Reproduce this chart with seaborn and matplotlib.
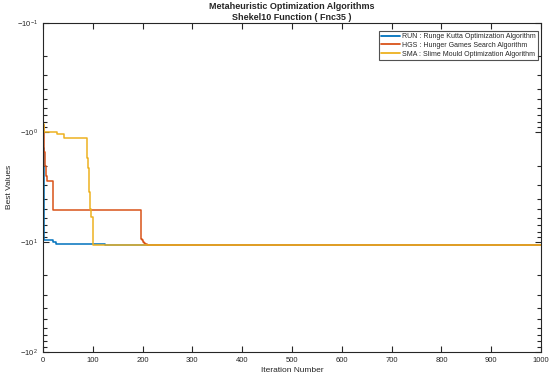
import numpy as np
import pandas as pd
import matplotlib
matplotlib.use('Agg')
import matplotlib.pyplot as plt
import matplotlib.ticker as mticker
import seaborn as sns

# convergence curves (best value per iteration, breakpoints of the step curves)
it_run = [1, 2, 3, 20, 27, 124, 1000]
val_run = [-1.39, -4.5, -9.53, -9.9, -10.3, -10.5364, -10.5364]

it_hgs = [1, 2, 3, 5, 7, 9, 21, 196, 198, 200, 202, 205, 208, 1000]
val_hgs = [-0.85, -1.1, -1.5, -2.0, -2.5, -2.75, -5.08, -9.3, -9.6, -9.9, -10.2, -10.4, -10.5364, -10.5364]

it_sma = [1, 2, 3, 28, 43, 88, 90, 91, 93, 95, 97, 100, 1000]
val_sma = [-0.84, -0.88, -1.0, -1.03, -1.12, -1.72, -1.8, -2.1, -3.5, -5.0, -5.9, -10.5364, -10.5364]

labels = ['RUN : Runge Kutta Optimization Algorithm',
          'HGS : Hunger Games Search Algorithm',
          'SMA : Slime Mould Optimization Algorithm']
colors = ['#0072BD', '#D95319', '#EDB120']

frames = []
for it, val, lab in zip([it_run, it_hgs, it_sma], [val_run, val_hgs, val_sma], labels):
    frames.append(pd.DataFrame({'iter': it, 'best': val, 'algo': lab}))
df = pd.concat(frames, ignore_index=True)
# negative values on a log axis (MATLAB style): plot magnitudes, axis inverted
df['mag'] = -df['best']

sns.set_style('white')
plt.rcParams['font.family'] = ['Liberation Sans', 'DejaVu Sans']
plt.rcParams['mathtext.fontset'] = 'custom'
plt.rcParams['mathtext.rm'] = 'Liberation Sans'
plt.rcParams['mathtext.it'] = 'Liberation Sans'

fig = plt.figure(figsize=(5.54, 3.81), dpi=100)
ax = fig.add_axes([0.0776, 0.0761, 0.8989, 0.8643])

sns.lineplot(data=df, x='iter', y='mag', hue='algo', palette=colors,
             estimator=None, sort=False, drawstyle='steps-post',
             linewidth=1.1, ax=ax)

ax.set_yscale('log')
ax.set_ylim(0.1, 100)
ax.invert_yaxis()
ax.set_xlim(0, 1000)
ax.set_xticks(np.arange(0, 1001, 100))
ax.yaxis.set_major_locator(mticker.FixedLocator([0.1, 1, 10, 100]))
ax.yaxis.set_major_formatter(mticker.FixedFormatter(
    ['$-10^{-1}$', '$-10^{0}$', '$-10^{1}$', '$-10^{2}$']))
ax.yaxis.set_minor_locator(mticker.LogLocator(base=10, subs=np.arange(2, 10)))
ax.yaxis.set_minor_formatter(mticker.NullFormatter())

ax.tick_params(axis='both', which='both', direction='in', top=True, right=True,
               left=True, bottom=True, labelsize=5.5, colors='#262626', width=0.8)
ax.tick_params(axis='both', which='major', length=4)
ax.tick_params(axis='y', which='minor', length=3)
for s in ax.spines.values():
    s.set_color('#262626')
    s.set_linewidth(0.8)

ax.set_xlabel('Iteration Number', fontsize=6, color='#262626', labelpad=2)
ax.set_ylabel('Best Values', fontsize=6, color='#262626', labelpad=3)
ax.set_title('Metaheuristic Optimization Algorithms\nShekel10 Function ( Fnc35 )',
             fontsize=6.5, fontweight='bold', pad=2, linespacing=1.25)

leg = ax.legend(loc='upper right', fontsize=5.0, frameon=True, fancybox=False,
                edgecolor='#262626', handlelength=2.6, handletextpad=0.4,
                borderpad=0.35, labelspacing=0.25, borderaxespad=0,
                bbox_to_anchor=(0.995, 0.976))
leg.get_frame().set_linewidth(0.8)
for h in leg.get_lines():
    h.set_linewidth(1.3)

fig.savefig('out.png', dpi=100)
